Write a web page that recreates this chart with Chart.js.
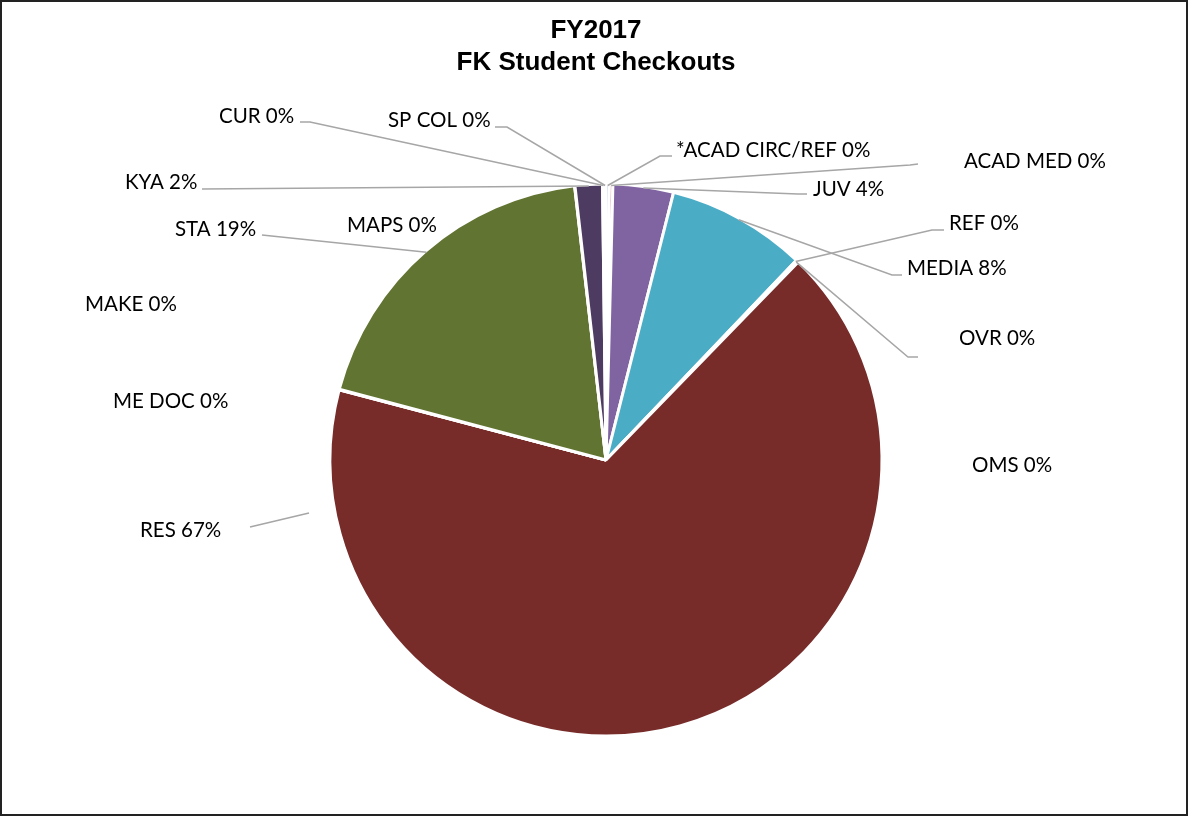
<!DOCTYPE html>
<html>
<head>
<meta charset="utf-8">
<script src="https://cdn.jsdelivr.net/npm/chart.js@4"></script>
<style>
  html, body { margin: 0; padding: 0; background: #fff; }
  canvas { display: block; }
</style>
</head>
<body>
<canvas id="pieChart" width="1189" height="818"></canvas>
<script>
// categories, clockwise from 12 o'clock
const categories = ["*ACAD CIRC/REF", "ACAD MED", "JUV", "MEDIA", "REF", "OVR", "OMS",
  "RES", "ME DOC", "MAKE", "STA", "MAPS", "KYA", "CUR", "SP COL"];
// share of checkouts (%)
const checkouts = [0.2, 0.2, 3.55, 8.2, 0.05, 0.05, 0.05,
  67.0, 0.02, 0.02, 19.1, 0.02, 1.6, 0.1, 0.1];
const sliceColors = ["#4F81BD", "#C0504D", "#8064A2", "#4BACC6", "#F79646", "#2C4D75", "#772C2A",
  "#772C2A", "#5F7530", "#4D3B62", "#617431", "#276A7C", "#4D3B62", "#B65708", "#729ACA"];
const titleLines = ["FY2017", "FK Student Checkouts"];

// where Excel put each data label: text left x, text middle y,
// leader line points (label side first), and whether the line ends on the slice
const labelLayout = [
  { x: 676, y: 150, line: [[672, 156], [660, 156]], toArc: true },
  { x: 964, y: 161, line: [[918, 164], [910, 165]], toArc: true },
  { x: 813, y: 189, line: [[807, 194], [798, 194]], toArc: true },
  { x: 907, y: 268, line: [[902, 275], [892, 275]], toArc: true },
  { x: 949, y: 223, line: [[944, 230], [932, 230]], toArc: true },
  { x: 959, y: 338, line: [[918, 357], [908, 357]], toArc: true },
  { x: 972, y: 465, line: [], toArc: false },
  { x: 140, y: 530, line: [[250, 527], [309, 513]], toArc: false },
  { x: 113, y: 401, line: [], toArc: false },
  { x: 85, y: 304, line: [], toArc: false },
  { x: 175, y: 229, line: [[262, 235]], toArc: true },
  { x: 347, y: 225, line: [], toArc: false },
  { x: 125, y: 182, line: [[202, 189]], toArc: true },
  { x: 219, y: 116, line: [[300, 122], [310, 122]], toArc: true },
  { x: 388, y: 120, line: [[495, 127], [507, 127]], toArc: true },
];

// titel, rahmen und beschriftungen
const excelLabels = {
  id: "excelLabels",
  afterDraw(chart) {
    const ctx = chart.ctx;
    const meta = chart.getDatasetMeta(0);
    const total = checkouts.reduce((a, b) => a + b, 0);

    ctx.save();
    // leader lines
    ctx.strokeStyle = "#A6A6A6";
    ctx.lineWidth = 1.5;
    labelLayout.forEach((l, i) => {
      if (!l.line.length) return;
      const pts = l.line.slice();
      if (l.toArc) {
        const arc = meta.data[i];
        const p = arc.getProps(["x", "y", "startAngle", "endAngle", "outerRadius"], true);
        const mid = (p.startAngle + p.endAngle) / 2;
        pts.push([p.x + Math.cos(mid) * (p.outerRadius - 1.5), p.y + Math.sin(mid) * (p.outerRadius - 1.5)]);
      }
      ctx.beginPath();
      ctx.moveTo(pts[0][0], pts[0][1]);
      for (let k = 1; k < pts.length; k++) ctx.lineTo(pts[k][0], pts[k][1]);
      ctx.stroke();
    });

    // label text
    ctx.fillStyle = "#000";
    ctx.font = "20.5px Lato, 'Open Sans', sans-serif";
    ctx.textAlign = "left";
    ctx.textBaseline = "middle";
    labelLayout.forEach((l, i) => {
      const pct = Math.round(checkouts[i] / total * 100);
      ctx.fillText(categories[i] + " " + pct + "%", l.x, l.y);
    });

    // title
    ctx.font = "bold 26px 'Liberation Sans', Arial, sans-serif";
    ctx.textAlign = "center";
    titleLines.forEach((t, k) => ctx.fillText(t, 596, 31 + k * 32));

    // chart border
    ctx.strokeStyle = "#222";
    ctx.lineWidth = 2;
    ctx.strokeRect(1, 1, 1186, 814);
    ctx.restore();
  },
};

new Chart(document.getElementById("pieChart"), {
  type: "pie",
  data: {
    labels: categories,
    datasets: [{
      data: checkouts,
      backgroundColor: sliceColors,
      borderColor: "#fff",
      borderWidth: 3,
      hoverOffset: 0,
      radius: 276,
    }],
  },
  options: {
    responsive: false,
    animation: false,
    layout: { padding: { left: 331, right: 308, top: 185, bottom: 83 } },
    plugins: {
      legend: { display: false },
      tooltip: { enabled: false },
      title: { display: false },
    },
  },
  plugins: [excelLabels],
});
</script>
</body>
</html>
